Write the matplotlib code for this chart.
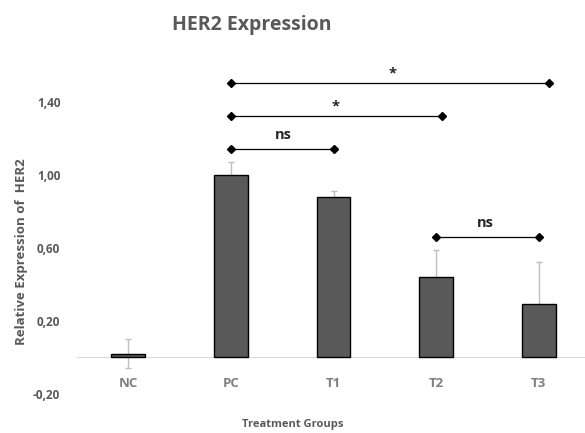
import matplotlib.pyplot as plt
import numpy as np

plt.rcParams['font.family'] = ['Open Sans', 'DejaVu Sans']

# data
groups = ['NC', 'PC', 'T1', 'T2', 'T3']
expression = [0.02, 1.00, 0.88, 0.44, 0.29]
errors = [0.08, 0.07, 0.03, 0.15, 0.23]
yticks = [-0.20, 0.20, 0.60, 1.00, 1.40]
ytick_labels = ['-0,20', '0,20', '0,60', '1,00', '1,40']

# significance brackets: (start group, height, end x, label x, label)
brackets = [
    (1, 1.50, 4.1, 2.57, '*'),
    (1, 1.32, 3.06, 2.02, '*'),
    (1, 1.14, 2.0, 1.51, 'ns'),
    (3, 0.66, 4.0, 3.48, 'ns'),
]

fig = plt.figure(figsize=(5.85, 4.33), dpi=100)
ax = fig.add_axes([77/585, 39/433, 508/585, 329/433])

x = np.arange(len(groups))
ax.errorbar(x, expression, yerr=errors, fmt='none', ecolor='#bfbfbf',
            elinewidth=1, capsize=2.5, capthick=1, zorder=1)
ax.bar(x, expression, width=0.33, color='#595959', edgecolor='#000000',
       linewidth=1, zorder=2)

ax.set_xlim(-0.5, 4.45)
ax.set_ylim(-0.2, 1.6)

for s in ['top', 'right', 'left']:
    ax.spines[s].set_visible(False)
ax.spines['bottom'].set_position(('data', 0))
ax.spines['bottom'].set_color('#d9d9d9')
ax.spines['bottom'].set_zorder(0)

ax.set_xticks(x)
ax.set_xticklabels(groups, fontsize=9.5, fontweight='bold', color='#7f7f7f')
ax.tick_params(axis='x', length=0, pad=14)
ax.set_yticks(yticks)
ax.set_yticklabels(ytick_labels, fontsize=8.5, fontweight='bold', color='#595959')
ax.tick_params(axis='y', length=0, pad=12)

for x0, h, x1, xt, lab in brackets:
    ax.plot([x0, x1], [h, h], color='#000000', lw=0.9, marker='D',
            markersize=4, clip_on=False, zorder=3)
    off = 0.055 if lab == '*' else 0.075
    ax.text(xt, h + off, lab, ha='center', va='center', fontsize=10.5,
            fontweight='bold', color='#262626')

fig.text(252/585, 1 - 25/433, 'HER2 Expression', ha='center', va='center',
         fontsize=14, fontweight='bold', color='#595959')
fig.text(293/585, 1 - 425/433, 'Treatment Groups', ha='center', va='center',
         fontsize=8, fontweight='bold', color='#595959')
fig.text(22/585, 1 - 252/433, 'Relative Expression of  HER2', ha='center',
         va='center', rotation=90, fontsize=9.5, fontweight='bold',
         color='#595959')

fig.savefig('out.png', dpi=100)
